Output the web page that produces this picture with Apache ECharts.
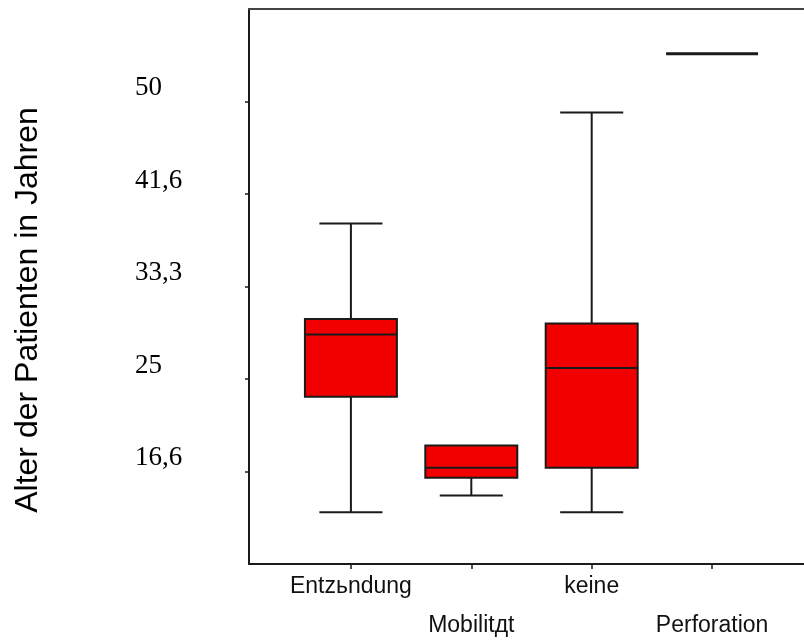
<!DOCTYPE html>
<html>
<head>
<meta charset="utf-8">
<script src="https://cdn.jsdelivr.net/npm/echarts@6/dist/echarts.min.js"></script>
<style>
  html, body { margin: 0; padding: 0; background: #fff; }
  #chart { width: 804px; height: 644px; }
</style>
</head>
<body>
<div id="chart"></div>
<script>
// Age of patients per group: box plot summary values
const categories = ['Entzьndung', 'Mobilitдt', 'keine', 'Perforation'];
const whiskerLow = [13, 14.5, 13, 54.3];
const quartile1 = [23.4, 16.1, 17, 54.3];
const medians = [29, 17, 26, 54.3];
const quartile3 = [30.4, 19, 30, 54.3];
const whiskerHigh = [39, 19, 49, 54.3];

// y axis tick positions and their printed labels
const yTickValues = [50 / 3, 25, 100 / 3, 125 / 3, 50];
const yTickLabels = ['16,6', '25', '33,3', '41,6', '50'];
const xTickValues = [1, 2, 3, 4];

const boxData = categories.map((c, i) => [
  i + 1, whiskerLow[i], quartile1[i], medians[i], quartile3[i], whiskerHigh[i]
]);

const INK = '#1a1a1a';
const X_MIN = 0.1535, X_MAX = 4.8465;

function renderBox(params, api) {
  const xv = api.value(0);
  const band = api.size([1, 0])[0];
  const halfBox = band * 0.382;
  const halfCap = band * 0.262;
  const cx = api.coord([xv, api.value(3)])[0];
  const yAt = k => api.coord([xv, api.value(k)])[1];
  const yLow = yAt(1), yQ1 = yAt(2), yMed = yAt(3), yQ3 = yAt(4), yHigh = yAt(5);
  const line = (x1, y1, x2, y2, w) => ({
    type: 'line',
    shape: { x1, y1, x2, y2 },
    style: { stroke: INK, lineWidth: w || 2 }
  });
  const children = [];
  if (yQ3 - yHigh > 0.5) {
    children.push(line(cx, yHigh, cx, yQ3), line(cx - halfCap, yHigh, cx + halfCap, yHigh));
  }
  if (yLow - yQ1 > 0.5) {
    children.push(line(cx, yQ1, cx, yLow), line(cx - halfCap, yLow, cx + halfCap, yLow));
  }
  const flat = yQ1 - yQ3 <= 0.5;
  if (!flat) {
    children.push({
      type: 'rect',
      shape: { x: cx - halfBox, y: yQ3, width: 2 * halfBox, height: yQ1 - yQ3 },
      style: { fill: '#f20000', stroke: INK, lineWidth: 2 }
    });
  }
  children.push(line(cx - halfBox, yMed, cx + halfBox, yMed, flat ? 3 : 2));
  return { type: 'group', children };
}

const chart = echarts.init(document.getElementById('chart'), null, { renderer: 'canvas' });

chart.setOption({
  animation: false,
  backgroundColor: '#fff',
  grid: {
    left: 249, top: 9, right: -10, bottom: 80,
    show: false, containLabel: false, outerBoundsMode: 'none'
  },
  xAxis: [{
    type: 'value',
    min: X_MIN,
    max: X_MAX,
    splitLine: { show: false },
    axisLine: { show: true, onZero: false, lineStyle: { color: INK, width: 2 } },
    axisTick: { show: true, customValues: xTickValues, length: 5, lineStyle: { color: INK, width: 1.5 } },
    axisLabel: {
      customValues: xTickValues,
      formatter: v => {
        const i = Math.round(v) - 1;
        const name = categories[i] || '';
        return i % 2 === 0 ? name : '\n' + name;
      },
      fontFamily: 'Liberation Sans',
      fontSize: 23,
      color: '#111',
      lineHeight: 39,
      margin: 3
    }
  }, {
    // frame line along the top edge of the plot
    type: 'value',
    position: 'top',
    min: X_MIN,
    max: X_MAX,
    splitLine: { show: false },
    axisLine: { show: true, onZero: false, lineStyle: { color: '#444', width: 2 } },
    axisTick: { show: false },
    axisLabel: { show: false }
  }],
  yAxis: {
    type: 'value',
    min: 25 / 3,
    max: 175 / 3,
    splitLine: { show: false },
    axisLine: { show: true, onZero: false, lineStyle: { color: INK, width: 2 } },
    axisTick: { show: true, customValues: yTickValues, length: 4, lineStyle: { color: INK, width: 1.5 } },
    axisLabel: {
      customValues: yTickValues,
      formatter: v => {
        let best = 0;
        yTickValues.forEach((t, i) => { if (Math.abs(t - v) < Math.abs(yTickValues[best] - v)) best = i; });
        return yTickLabels[best];
      },
      align: 'left',
      verticalAlign: 'bottom',
      lineHeight: 27,
      margin: 114,
      fontFamily: 'Liberation Serif',
      fontSize: 27,
      color: '#000'
    }
  },
  graphic: [{
    type: 'text',
    x: 28,
    y: 310,
    rotation: Math.PI / 2,
    style: {
      text: 'Alter der Patienten in Jahren',
      font: '32px "Liberation Sans"',
      fill: '#000',
      align: 'center',
      verticalAlign: 'middle'
    }
  }],
  series: [{
    type: 'custom',
    renderItem: renderBox,
    encode: { x: 0, y: [1, 2, 3, 4, 5] },
    data: boxData
  }]
});
</script>
</body>
</html>
